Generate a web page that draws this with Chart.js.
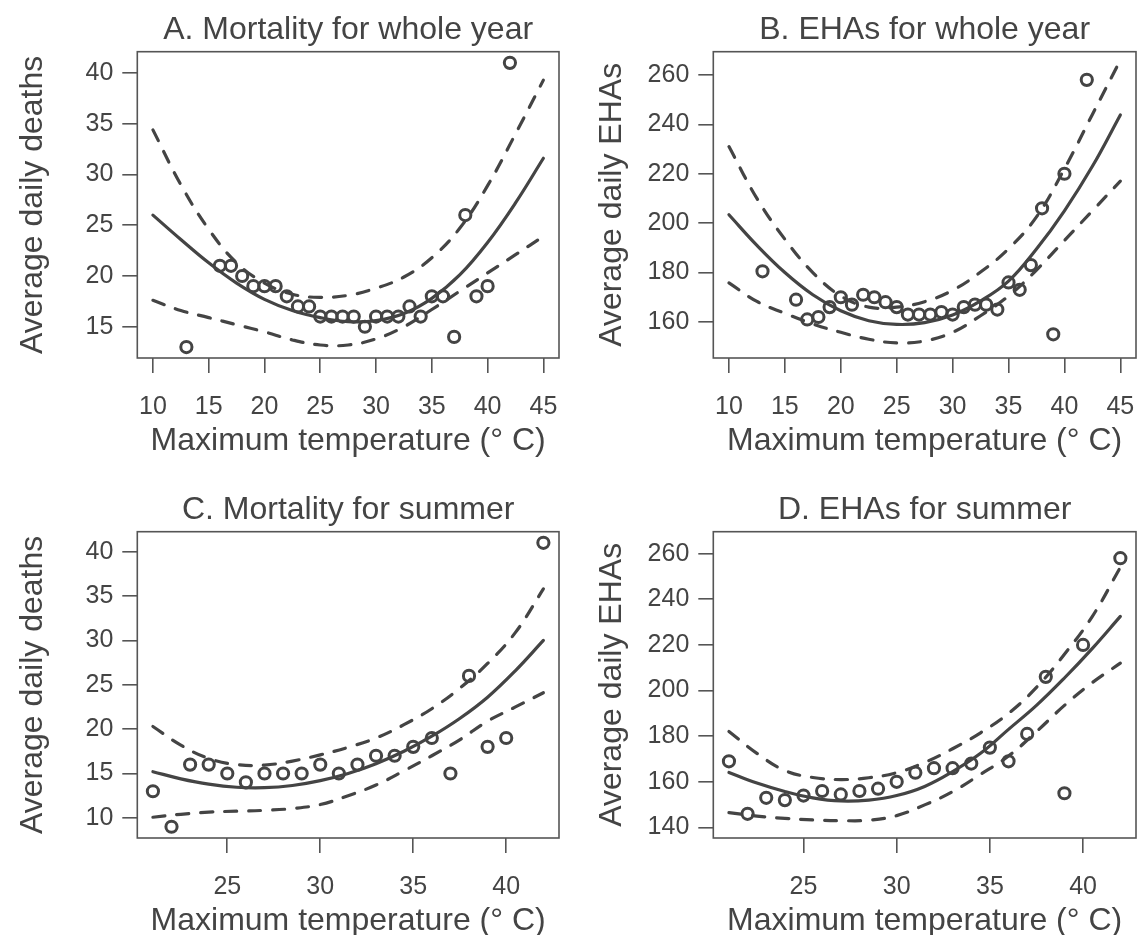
<!DOCTYPE html>
<html>
<head>
<meta charset="utf-8">
<script src="https://cdn.jsdelivr.net/npm/chart.js@4.4.1/dist/chart.umd.min.js"></script>
<style>
  html, body { margin: 0; padding: 0; background: #ffffff; overflow: hidden; width: 1138px; height: 935px; }
  canvas { position: absolute; }
</style>
</head>
<body>
<canvas id="cA" width="569" height="468" style="left:0px;top:0px"></canvas>
<canvas id="cB" width="569" height="468" style="left:569px;top:0px"></canvas>
<canvas id="cC" width="569" height="468" style="left:0px;top:480px"></canvas>
<canvas id="cD" width="569" height="468" style="left:569px;top:480px"></canvas>
<script>
// ---------------- data ----------------
// Whole-year observations (panels A, B)
const tempsYear = [13,16,17,18,19,20,21,22,23,24,25,26,27,28,29,30,31,32,33,34,35,36,37,38,39,40,42];
const deathsYear = [13,21,21,20,19,19,19,18,17,17,16,16,16,16,15,16,16,16,17,16,18,18,14,26,18,19,41];
const ehasYear = [180.5,169,161,162,166,170,167,171,170,168,166,163,163,163,164,163,166,167,167,165,176,173,183,206,155,220,258];

// Summer observations (panels C, D)
const tempsSummer = [21,22,23,24,25,26,27,28,29,30,31,32,33,34,35,36,37,38,39,40,42];
const deathsSummer = [13,9,16,16,15,14,15,15,15,16,15,16,17,17,18,19,15,26,18,19,41];
const ehasSummer = [169,146,153,152,154,156,154.5,156,157,160,164,166,166,168,175,169,181,206,155,220,258];

// Fitted curves and confidence bands
const curveTempYear = [10,12.5,15,17.5,20,22.5,25,27.5,30,32.5,35,37.5,40,42.5,45];
const fitDeathsYear   = [26.0,23.6,21.3,19.3,17.7,16.6,15.9,15.5,15.6,16.3,17.8,20.1,23.3,27.2,31.6];
const upperDeathsYear = [34.4,29.0,24.6,21.3,19.3,18.2,17.9,18.1,18.8,19.9,21.8,24.7,28.9,34.0,39.3];
const lowerDeathsYear = [17.6,16.6,15.9,15.2,14.5,13.7,13.2,13.2,13.8,15.0,16.7,18.5,20.3,22.1,23.9];

const fitEhasYear   = [203.4,191,180,171,164.5,160.5,159,159.7,162.8,168.5,176.5,189.5,205,223,243.8];
const upperEhasYear = [231,210,193.5,180,170.5,166,166,168.2,172.8,180.2,189.6,202.5,222,244,266];
const lowerEhasYear = [175.8,168.3,163.5,159.2,155.8,153,151.5,152.3,155.8,162.5,170.5,181,193,205,217];

const curveTempSummer = [21,22.5,24,25.5,27,28.5,30,31.5,33,34.5,36,37.5,39,40.5,42];
const fitDeathsSummer   = [15.2,14.4,13.8,13.45,13.4,13.65,14.2,15.0,16.1,17.5,19.2,21.2,23.6,26.6,30.0];
const upperDeathsSummer = [20.3,18.2,16.7,16.0,15.95,16.4,17.1,17.95,19.0,20.5,22.3,24.6,27.4,30.9,35.8];
const lowerDeathsSummer = [10.07,10.4,10.65,10.75,10.85,11.05,11.5,12.5,13.7,15.3,17.0,18.8,20.9,22.5,24.1];

const fitEhasSummer   = [164.1,159.5,155.8,153.0,151.6,152.0,154.0,158.0,164.5,172.5,183,193.5,205.5,218.5,232.5];
const upperEhasSummer = [182.1,172.5,165,161.9,161,161.8,164,168.5,174.5,181.5,190,201.4,215.9,232.5,254];
const lowerEhasSummer = [146.5,145,144,143.3,143,143.2,145.2,149.9,155.7,163.3,171.3,182,193.5,203.5,212];

// Tick labels
const ticksXYear = [10,15,20,25,30,35,40,45];
const ticksXSummer = [25,30,35,40];
const ticksYDeathsYear = [15,20,25,30,35,40];
const ticksYEhas = [140,160,180,200,220,240,260];
const ticksYEhasYear = [160,180,200,220,240,260];
const ticksYDeathsSummer = [10,15,20,25,30,35,40];

// Text
const titles = ["A. Mortality for whole year","B. EHAs for whole year","C. Mortality for summer","D. EHAs for summer"];
const xLabel = "Maximum temperature (\u00B0 C)";
const yLabelDeaths = "Average daily deaths";
const yLabelEhas = "Average daily EHAs";

// ---------------- drawing ----------------
const INK = '#444444';
const BOXC = '#555555';
const FONT = "'Liberation Sans', Arial, Helvetica, sans-serif";
Chart.defaults.color = INK;
Chart.defaults.font.family = FONT;

const boxPlugin = {
  id: 'rbox',
  afterDatasetsDraw(chart) {
    const a = chart.chartArea, ctx = chart.ctx;
    ctx.save();
    ctx.strokeStyle = BOXC;
    ctx.lineWidth = 1.6;
    ctx.strokeRect(a.left, a.top, a.right - a.left, a.bottom - a.top);
    ctx.restore();
  }
};

function toXY(xs, ys) { return xs.map((x, i) => ({x: x, y: ys[i]})); }

function makePanel(id, cfg) {
  const lineBase = {showLine: true, pointRadius: 0, borderColor: INK, borderWidth: 3.2,
                    tension: 0.4, borderCapStyle: 'round', fill: false};
  new Chart(document.getElementById(id), {
    type: 'scatter',
    data: {
      datasets: [
        Object.assign({}, lineBase, {data: toXY(cfg.cx, cfg.fit)}),
        Object.assign({}, lineBase, {data: toXY(cfg.cx, cfg.upper), borderDash: [12, 12]}),
        Object.assign({}, lineBase, {data: toXY(cfg.cx, cfg.lower), borderDash: [12, 12]}),
        {data: toXY(cfg.px, cfg.py), showLine: false, pointStyle: 'circle', pointRadius: 5.6,
         pointBorderWidth: 3, pointBorderColor: INK, pointBackgroundColor: 'rgba(0,0,0,0)'}
      ]
    },
    options: {
      responsive: false,
      animation: false,
      devicePixelRatio: 1,
      layout: {autoPadding: false, padding: {left: 0, right: cfg.padR, top: 0, bottom: 0}},
      plugins: {
        legend: {display: false},
        tooltip: {enabled: false},
        title: {display: true, text: cfg.title, fullSize: false, color: INK,
                font: {size: 32, weight: 'normal', family: FONT, lineHeight: 1.2},
                padding: {top: 10.8, bottom: 2.5}}
      },
      scales: {
        x: {
          type: 'linear', min: cfg.xmin, max: cfg.xmax,
          afterBuildTicks: s => { s.ticks = cfg.xt.map(v => ({value: v})); },
          afterFit: s => { s.height = 110; s.paddingLeft = 0; s.paddingRight = 0; },
          grid: {drawOnChartArea: false, drawTicks: true, tickLength: 15, color: BOXC, lineWidth: 1.6},
          border: {display: false},
          ticks: {font: {size: 25, family: FONT}, color: INK, padding: 19, maxRotation: 0, autoSkip: false},
          title: {display: true, text: xLabel, color: INK, font: {size: 32, family: FONT, lineHeight: 1.2},
                  padding: {top: 0, bottom: 7.8}}
        },
        y: {
          type: 'linear', min: cfg.ymin, max: cfg.ymax,
          afterBuildTicks: s => { s.ticks = cfg.yt.map(v => ({value: v})); },
          afterFit: s => { s.width = cfg.yw; s.paddingTop = 0; s.paddingBottom = 0; },
          grid: {drawOnChartArea: false, drawTicks: true, tickLength: 15, color: BOXC, lineWidth: 1.6},
          border: {display: false},
          ticks: {font: {size: 25, family: FONT}, color: INK, padding: 9, autoSkip: false},
          title: {display: true, text: cfg.ylab, color: INK, font: {size: 32, family: FONT, lineHeight: 1.2},
                  padding: {top: cfg.ytp, bottom: 0}}
        }
      }
    },
    plugins: [boxPlugin]
  });
}

makePanel('cA', {title: titles[0], px: tempsYear, py: deathsYear, cx: curveTempYear,
  fit: fitDeathsYear, upper: upperDeathsYear, lower: lowerDeathsYear,
  xmin: 8.6, xmax: 46.4, ymin: 11.92, ymax: 42.1, xt: ticksXYear, yt: ticksYDeathsYear,
  ylab: yLabelDeaths, yw: 137.3, ytp: 13.8, padR: 10});
makePanel('cB', {title: titles[1], px: tempsYear, py: ehasYear, cx: curveTempYear,
  fit: fitEhasYear, upper: upperEhasYear, lower: lowerEhasYear,
  xmin: 8.6, xmax: 46.4, ymin: 145.4, ymax: 269.4, xt: ticksXYear, yt: ticksYEhasYear,
  ylab: yLabelEhas, yw: 144.3, ytp: 24, padR: 2});
makePanel('cC', {title: titles[2], px: tempsSummer, py: deathsSummer, cx: curveTempSummer,
  fit: fitDeathsSummer, upper: upperDeathsSummer, lower: lowerDeathsSummer,
  xmin: 20.16, xmax: 42.84, ymin: 7.73, ymax: 42.25, xt: ticksXSummer, yt: ticksYDeathsSummer,
  ylab: yLabelDeaths, yw: 137.3, ytp: 13.8, padR: 10});
makePanel('cD', {title: titles[3], px: tempsSummer, py: ehasSummer, cx: curveTempSummer,
  fit: fitEhasSummer, upper: upperEhasSummer, lower: lowerEhasSummer,
  xmin: 20.16, xmax: 42.84, ymin: 135.4, ymax: 269.6, xt: ticksXSummer, yt: ticksYEhas,
  ylab: yLabelEhas, yw: 144.3, ytp: 24, padR: 2});
</script>
</body>
</html>
